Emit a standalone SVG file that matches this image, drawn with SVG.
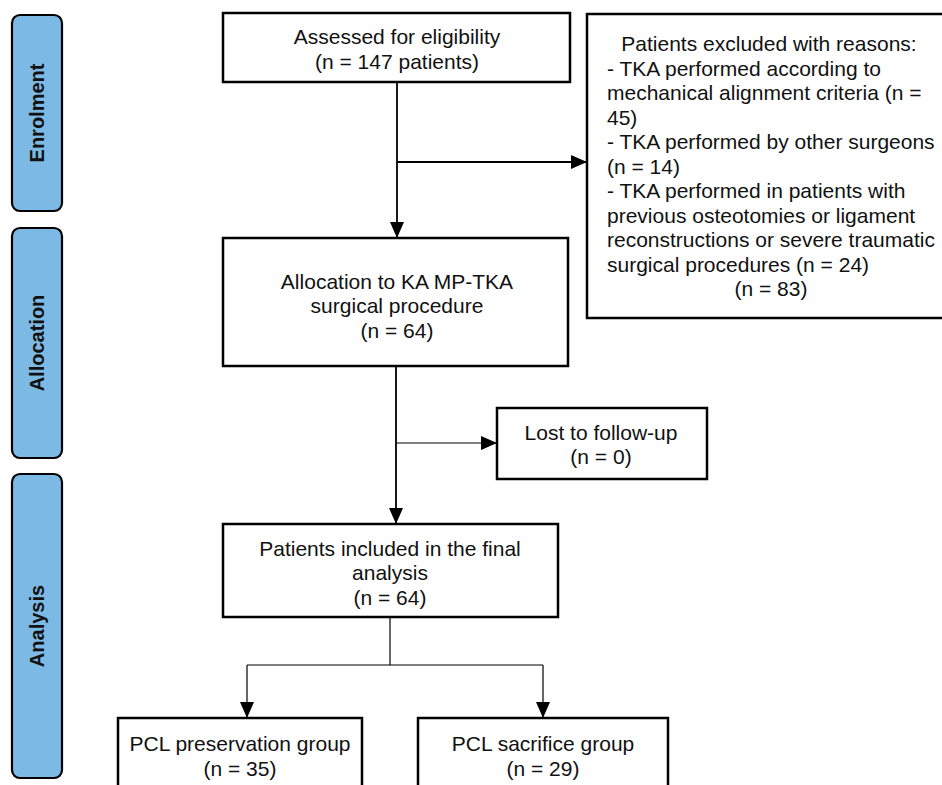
<svg xmlns="http://www.w3.org/2000/svg" width="942" height="785" viewBox="0 0 942 785">
<defs>
<style>
.bar{fill:#7db9e5;stroke:#000;stroke-width:2.2}
.bt{font-family:"Liberation Sans",Arial,sans-serif;font-weight:bold;font-size:20px;fill:#111;text-anchor:middle}
.box{fill:#fff;stroke:#000;stroke-width:2.5}
.t{font-family:"Liberation Sans",Arial,sans-serif;font-size:21px;fill:#111}
.c{text-anchor:middle}
.ln{fill:none;stroke:#000;stroke-width:1.8}
.thin{fill:none;stroke:#000;stroke-width:1.2}
</style>
<marker id="ah" viewBox="0 0 16 14" refX="16" refY="7" markerWidth="16" markerHeight="14" markerUnits="userSpaceOnUse" orient="auto">
<path d="M0,0 L16,7 L0,14 Z" fill="#000"/>
</marker>
</defs>
<rect width="942" height="785" fill="#fff"/>

<g id="bar-enrolment">
<rect class="bar" x="12" y="15" width="50" height="196" rx="8"/>
<text class="bt" transform="translate(44,113) rotate(-90)">Enrolment</text>
</g>
<g id="bar-allocation">
<rect class="bar" x="12" y="228" width="50" height="230" rx="8"/>
<text class="bt" transform="translate(44,343) rotate(-90)">Allocation</text>
</g>
<g id="bar-analysis">
<rect class="bar" x="12" y="474" width="50" height="304" rx="8"/>
<text class="bt" transform="translate(44,626) rotate(-90)">Analysis</text>
</g>

<g id="connectors">
<line class="ln" x1="397" y1="82" x2="397" y2="238" marker-end="url(#ah)"/>
<line class="ln" x1="397" y1="162" x2="587" y2="162" marker-end="url(#ah)"/>
<line class="ln" x1="396" y1="366" x2="396" y2="524" marker-end="url(#ah)"/>
<line class="thin" x1="396" y1="443" x2="497" y2="443" marker-end="url(#ah)"/>
<line class="thin" x1="390" y1="617" x2="390" y2="665"/>
<line class="thin" x1="247" y1="665" x2="543" y2="665"/>
<line class="thin" x1="247" y1="665" x2="247" y2="718" marker-end="url(#ah)"/>
<line class="thin" x1="543" y1="665" x2="543" y2="718" marker-end="url(#ah)"/>
</g>

<g id="node-assessed">
<rect class="box" x="223" y="13" width="347" height="69"/>
<text class="t c" x="397" y="44">Assessed for eligibility</text>
<text class="t c" x="397" y="69">(n = 147 patients)</text>
</g>

<g id="node-excluded">
<rect class="box" x="587" y="14" width="366" height="304"/>
<text class="t c" x="769" y="51">Patients excluded with reasons:</text>
<text class="t" x="607" y="76">- TKA performed according to</text>
<text class="t" x="607" y="100">mechanical alignment criteria (n =</text>
<text class="t" x="607" y="125">45)</text>
<text class="t" x="607" y="149">- TKA performed by other surgeons</text>
<text class="t" x="607" y="174">(n = 14)</text>
<text class="t" x="607" y="198">- TKA performed in patients with</text>
<text class="t" x="607" y="223">previous osteotomies or ligament</text>
<text class="t" x="607" y="247">reconstructions or severe traumatic</text>
<text class="t" x="607" y="272">surgical procedures (n = 24)</text>
<text class="t c" x="771" y="296">(n = 83)</text>
</g>

<g id="node-allocation">
<rect class="box" x="223" y="238" width="345" height="128"/>
<text class="t c" x="397" y="289">Allocation to KA MP-TKA</text>
<text class="t c" x="397" y="313">surgical procedure</text>
<text class="t c" x="397" y="338">(n = 64)</text>
</g>

<g id="node-lost">
<rect class="box" x="497" y="408" width="210" height="71"/>
<text class="t c" x="601" y="440">Lost to follow-up</text>
<text class="t c" x="601" y="464">(n = 0)</text>
</g>

<g id="node-included">
<rect class="box" x="223" y="524" width="335" height="93"/>
<text class="t c" x="390" y="556">Patients included in the final</text>
<text class="t c" x="390" y="580">analysis</text>
<text class="t c" x="390" y="605">(n = 64)</text>
</g>

<g id="node-preservation">
<rect class="box" x="118" y="718" width="244" height="80"/>
<text class="t c" x="240" y="751">PCL preservation group</text>
<text class="t c" x="240" y="776">(n = 35)</text>
</g>

<g id="node-sacrifice">
<rect class="box" x="418" y="718" width="250" height="80"/>
<text class="t c" x="543" y="751">PCL sacrifice group</text>
<text class="t c" x="543" y="776">(n = 29)</text>
</g>
</svg>
